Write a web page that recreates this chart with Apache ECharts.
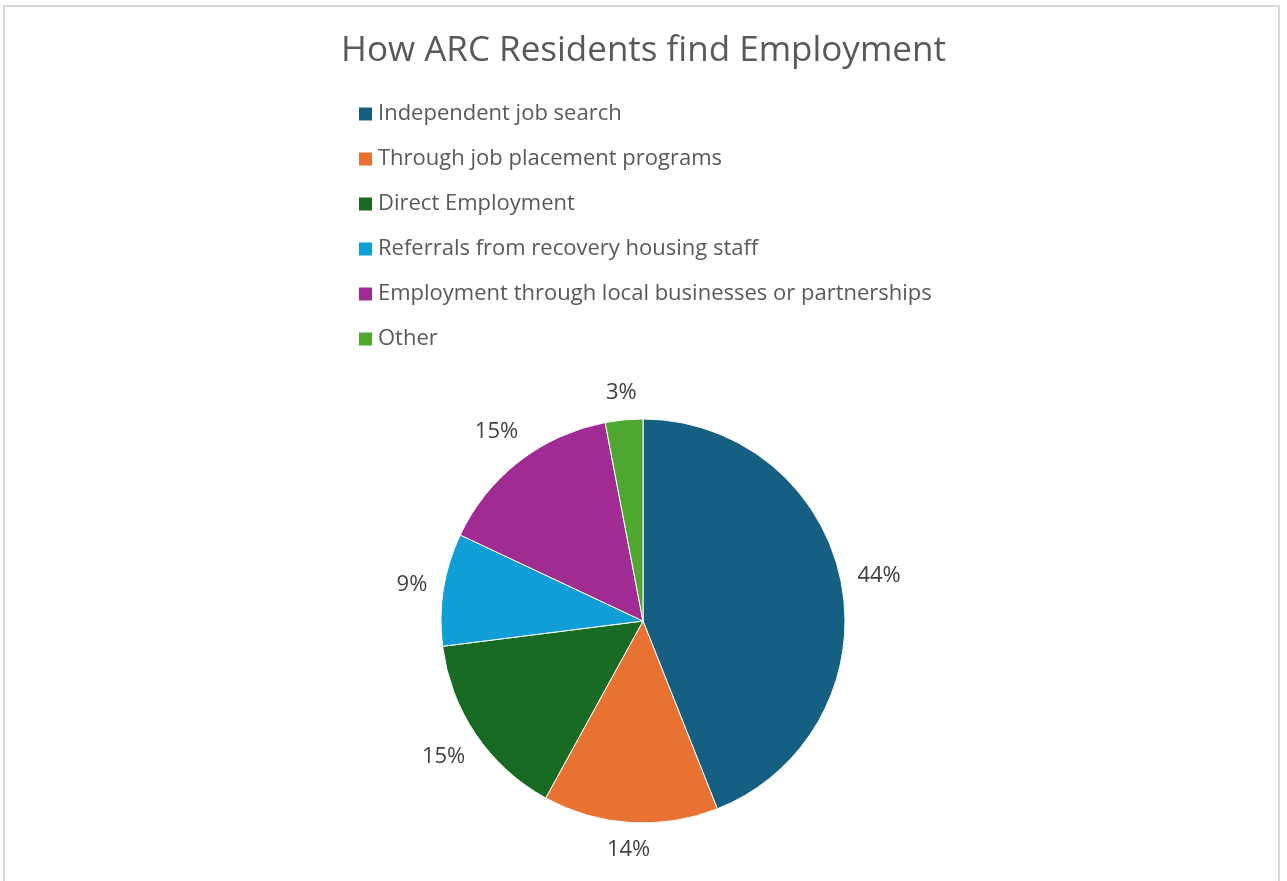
<!DOCTYPE html>
<html>
<head>
<meta charset="utf-8">
<script src="https://cdn.jsdelivr.net/npm/echarts@6/dist/echarts.min.js"></script>
<style>
  html, body { margin: 0; padding: 0; background: #fff; }
  #frame { position: absolute; left: 3px; top: 5px; width: 1277px; height: 900px;
           border: 2px solid #d9d9d9; border-bottom: none; box-sizing: border-box; }
  #chart { position: absolute; left: 0; top: 0; width: 1287px; height: 881px; }
</style>
</head>
<body>
<div id="frame"></div>
<div id="chart"></div>
<script>
const chartTitle = 'How ARC Residents find Employment';
const categories = [
  'Independent job search',
  'Through job placement programs',
  'Direct Employment',
  'Referrals from recovery housing staff',
  'Employment through local businesses or partnerships',
  'Other'
];
const shares = [44, 14, 15, 9, 15, 3];
const sliceColors = ['#156082', '#E97132', '#196B24', '#0F9ED5', '#A02B93', '#4EA72E'];

// pie geometry
const CX = 643, CY = 621, R = 202, LABEL_GAP = 15;

const total = shares.reduce((a, b) => a + b, 0);
function midAngle(i) {
  let before = 0;
  for (let k = 0; k < i; k++) before += shares[k];
  return ((before + shares[i] / 2) / total) * 2 * Math.PI; // clockwise from 12 o'clock
}

const chart = echarts.init(document.getElementById('chart'));
chart.setOption({
  animation: false,
  color: sliceColors,
  title: {
    text: chartTitle,
    left: 'center',
    top: 29,
    textStyle: { fontFamily: 'Open Sans', fontSize: 35, fontWeight: 'normal', color: '#595959' }
  },
  legend: {
    orient: 'vertical',
    left: 357,
    top: 103,
    padding: 0,
    itemWidth: 15,
    itemHeight: 15,
    itemGap: 23,
    icon: 'rect',
    textStyle: { fontFamily: 'Open Sans', fontSize: 22, lineHeight: 22, color: '#595959' },
    data: categories
  },
  series: [{
    type: 'pie',
    center: [CX, CY],
    radius: [0, R],
    startAngle: 90,
    clockwise: true,
    avoidLabelOverlap: false,
    itemStyle: { borderColor: '#ffffff', borderWidth: 1 },
    label: {
      show: true,
      position: 'outside',
      formatter: '{c}%',
      fontFamily: 'Open Sans',
      fontSize: 22,
      color: '#404040'
    },
    labelLine: { show: false },
    labelLayout: function (params) {
      const a = midAngle(params.dataIndex);
      const dx = Math.sin(a), dy = -Math.cos(a);
      const hw = params.labelRect.width / 2, hh = params.labelRect.height / 2;
      const d = R + LABEL_GAP + Math.abs(dx) * hw + Math.abs(dy) * hh;
      return { x: CX + dx * d, y: CY + dy * d, align: 'center', verticalAlign: 'middle' };
    },
    data: categories.map((name, i) => ({ name: name, value: shares[i] }))
  }]
});
</script>
</body>
</html>
